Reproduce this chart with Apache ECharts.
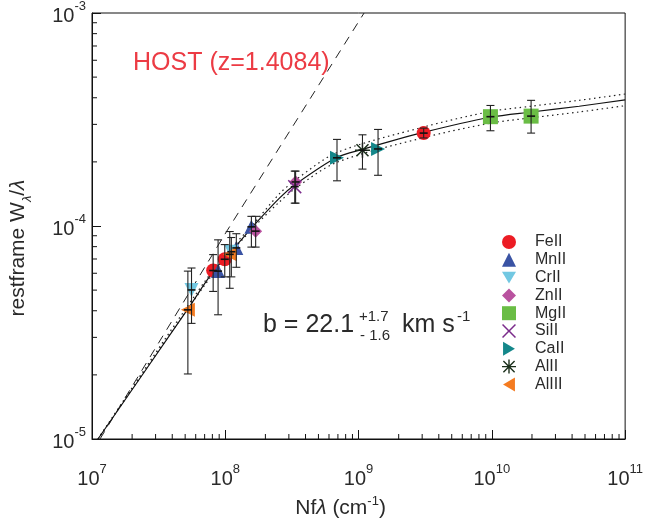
<!DOCTYPE html>
<html><head><meta charset="utf-8">
<script src="https://cdn.jsdelivr.net/npm/echarts@6/dist/echarts.min.js"></script>
<style>html,body{margin:0;padding:0;background:#fff}#c{width:646px;height:524px}</style>
</head><body><div id="c"></div>
<script>
// ---- tick labels ----
const xTickExp = ['7', '8', '9', '10', '11'];
const yTickExp = ['-5', '-4', '-3'];
const minorMantissa = [2, 3, 4, 5, 6, 7, 8, 9];

// ---- measurements per ion: x = Nf·lambda, y = W/lambda, lo/hi = error bar ends ----
const feX = [8.11e7, 9.91e7, 3.08e9];
const feY = [6.18e-5, 6.98e-5, 2.73e-4];
const feLo = [4.93e-5, 5.77e-5, 2.59e-4];
const feHi = [7.34e-5, 8.18e-5, 2.88e-4];

const mnX = [8.83e7, 1.21e8, 1.57e8];
const mnY = [6.14e-5, 7.89e-5, 9.91e-5];
const mnLo = [3.83e-5, 6.4e-5, 7.96e-5];
const mnHi = [8.61e-5, 9.2e-5, 1.11e-4];

const crX = [5.58e7, 1.11e8];
const crY = [5.01e-5, 7.57e-5];
const crLo = [3.49e-5, 5.77e-5];
const crHi = [6.35e-5, 8.83e-5];

const znX = [1.69e8, 3.37e8];
const znY = [9.46e-5, 1.61e-4];
const znLo = [7.96e-5, 1.28e-4];
const znHi = [1.11e-4, 1.81e-4];

const mgX = [9.76e9, 1.97e10];
const mgY = [3.26e-4, 3.28e-4];
const mgLo = [2.80e-4, 2.73e-4];
const mgHi = [3.68e-4, 3.89e-4];

const siX = [3.32e8];
const siY = [1.53e-4];
const siLo = [1.28e-4];
const siHi = [1.81e-4];

const caX = [6.89e8, 1.40e9];
const caY = [2.09e-4, 2.30e-4];
const caLo = [1.63e-4, 1.73e-4];
const caHi = [2.55e-4, 2.84e-4];

const al2X = [1.07e9];
const al2Y = [2.27e-4];
const al2Lo = [1.85e-4];
const al2Hi = [2.68e-4];

const al3X = [5.24e7, 1.08e8];
const al3Y = [4.04e-5, 7.36e-5];
const al3Lo = [2.02e-5, 5.1e-5];
const al3Hi = [6.14e-5, 9.42e-5];

// ---- curve of growth ----
const cogX = [1.109e7, 5.24e7, 8.06e7, 1.22e8, 1.66e8, 2.56e8, 3.37e8, 6.84e8, 1.07e9, 3.07e9, 9.75e9, 1.98e10, 4.52e10, 1e11];
const cogY = [1.0e-5, 4.08e-5, 6.07e-5, 8.15e-5, 1.016e-4, 1.356e-4, 1.570e-4, 2.096e-4, 2.291e-4, 2.751e-4, 3.24e-4, 3.43e-4, 3.65e-4, 3.91e-4];
const upX = [1.109e7, 8.06e7, 1.66e8, 2.56e8, 3.37e8, 6.84e8, 3.07e9, 9.75e9, 1.98e10, 4.52e10, 1e11];
const upY = [1.0e-5, 6.20e-5, 1.037e-4, 1.421e-4, 1.646e-4, 2.208e-4, 2.915e-4, 3.448e-4, 3.652e-4, 3.890e-4, 4.165e-4];
const loX = [1.109e7, 8.06e7, 1.66e8, 2.56e8, 3.37e8, 6.84e8, 3.07e9, 9.75e9, 1.98e10, 4.52e10, 1e11];
const loY = [1.0e-5, 5.95e-5, 9.95e-5, 1.300e-4, 1.505e-4, 1.988e-4, 2.598e-4, 3.040e-4, 3.221e-4, 3.430e-4, 3.671e-4];
const linX = [1.148e7, 1.02e8, 1.1e9];
const linY = [1.0e-5, 9.4e-5, 1.0e-3];

const X_MIN = 1e7, X_MAX = 1e11, Y_MIN = 1e-5, Y_MAX = 1e-3;

const FONT = '"Liberation Sans", Arial, Helvetica, sans-serif';
const TXT = '#2a2a2a';

const ions = [
  {name: 'FeII', x: feX, y: feY, lo: feLo, hi: feHi, color: '#ec1c24', symbol: 'circle', size: 14},
  {name: 'MnII', x: mnX, y: mnY, lo: mnLo, hi: mnHi, color: '#3a53a4', symbol: 'triangle', size: 14},
  {name: 'CrII', x: crX, y: crY, lo: crLo, hi: crHi, color: '#72c8e2', symbol: 'path://M0,0 L20,0 L10,17 Z', size: 14},
  {name: 'ZnII', x: znX, y: znY, lo: znLo, hi: znHi, color: '#b9529f', symbol: 'diamond', size: 13},
  {name: 'MgII', x: mgX, y: mgY, lo: mgLo, hi: mgHi, color: '#6abd45', symbol: 'rect', size: 15},
  {name: 'SiII', x: siX, y: siY, lo: siLo, hi: siHi, color: '#7b2c8b', symbol: 'path://M1.5,0 L10,8.5 L18.5,0 L20,1.5 L11.5,10 L20,18.5 L18.5,20 L10,11.5 L1.5,20 L0,18.5 L8.5,10 L0,1.5 Z', size: 14},
  {name: 'CaII', x: caX, y: caY, lo: caLo, hi: caHi, color: '#14878a', symbol: 'path://M0,0 L17,10 L0,20 Z', size: 14},
  {name: 'AlII', x: al2X, y: al2Y, lo: al2Lo, hi: al2Hi, color: '#1b2f1b', symbol: 'path://M9,0 L11,0 L11,20 L9,20 Z M0,9 L20,9 L20,11 L0,11 Z M2.7,1.3 L18.7,17.3 L17.3,18.7 L1.3,2.7 Z M18.7,2.7 L2.7,18.7 L1.3,17.3 L17.3,1.3 Z', size: 15},
  {name: 'AlIII', x: al3X, y: al3Y, lo: al3Lo, hi: al3Hi, color: '#f47b20', symbol: 'path://M17,0 L0,10 L17,20 Z', size: 14}
];

function pairs(xs, ys) { return xs.map((v, i) => [v, ys[i]]); }

function errRender(params, api) {
  const x = api.value(0), y = api.value(1), lo = api.value(2), hi = api.value(3);
  const c = api.coord([x, y]), pl = api.coord([x, lo]), ph = api.coord([x, hi]);
  const w = 4, s = {stroke: '#222', lineWidth: 1.1};
  return {type: 'group', children: [
    {type: 'line', shape: {x1: pl[0], y1: pl[1], x2: ph[0], y2: ph[1]}, style: s},
    {type: 'line', shape: {x1: pl[0] - w, y1: pl[1], x2: pl[0] + w, y2: pl[1]}, style: s},
    {type: 'line', shape: {x1: ph[0] - w, y1: ph[1], x2: ph[0] + w, y2: ph[1]}, style: s},
    {type: 'line', shape: {x1: c[0] - w, y1: c[1], x2: c[0] + w, y2: c[1]}, style: {stroke: '#111', lineWidth: 1.6}}
  ]};
}

const minorXs = [], minorYs = [];
[1e7, 1e8, 1e9, 1e10].forEach(d => minorMantissa.forEach(m => minorXs.push([m * d])));
[1e-5, 1e-4].forEach(d => minorMantissa.forEach(m => minorYs.push([m * d])));

const series = [];
series.push({type: 'line', name: 'lin', data: pairs(linX, linY), showSymbol: false, symbol: 'none', silent: true,
  lineStyle: {color: '#222', width: 1, type: [9, 7]}, z: 1});
series.push({type: 'line', name: 'up', data: pairs(upX, upY), symbol: 'none', smooth: 0.3, silent: true,
  lineStyle: {color: '#222', width: 1.2, type: [1.5, 3.5]}, z: 1});
series.push({type: 'line', name: 'lo', data: pairs(loX, loY), symbol: 'none', smooth: 0.3, silent: true,
  lineStyle: {color: '#222', width: 1.2, type: [1.5, 3.5]}, z: 1});
series.push({type: 'line', name: 'cog', data: pairs(cogX, cogY), symbol: 'none', smooth: 0.3, silent: true,
  lineStyle: {color: '#111', width: 1.2}, z: 1});

ions.forEach(ion => {
  series.push({type: 'scatter', name: ion.name, data: pairs(ion.x, ion.y), symbol: ion.symbol, symbolSize: ion.size,
    itemStyle: {color: ion.color, opacity: 1}, z: 3});
});
ions.forEach(ion => {
  series.push({type: 'custom', name: ion.name + '_err', renderItem: errRender, silent: true, z: 4,
    data: ion.x.map((v, i) => [v, ion.y[i], ion.lo[i], ion.hi[i]]),
    encode: {x: 0, y: [1, 2, 3]}});
});
// minor ticks drawn through the axis scales
series.push({type: 'custom', name: 'minorX', silent: true, z: 5, data: minorXs, encode: {x: 0},
  renderItem: (p, api) => { const c = api.coord([api.value(0), Y_MIN]);
    return {type: 'line', shape: {x1: c[0], y1: c[1], x2: c[0], y2: c[1] - 5}, style: {stroke: '#111', lineWidth: 1}}; }});
series.push({type: 'custom', name: 'minorY', silent: true, z: 5, data: minorYs.map(v => [X_MIN, v[0]]), encode: {x: 0, y: 1},
  renderItem: (p, api) => { const c = api.coord([X_MIN, api.value(1)]);
    return {type: 'line', shape: {x1: c[0], y1: c[1], x2: c[0] + 5, y2: c[1]}, style: {stroke: '#111', lineWidth: 1}}; }});

const labelRich = {
  b: {fontSize: 20, fontFamily: FONT, color: TXT, lineHeight: 26, verticalAlign: 'bottom'},
  s: {fontSize: 13, fontFamily: FONT, color: TXT, lineHeight: 14, verticalAlign: 'top'}
};

const option = {
  animation: false,
  backgroundColor: '#fff',
  grid: {left: 92, right: 20, top: 8, bottom: 77, show: true, borderColor: '#111', borderWidth: 1, containLabel: false},
  xAxis: {
    type: 'log', logBase: 10, min: X_MIN, max: X_MAX,
    axisLine: {show: true, lineStyle: {color: '#111', width: 1}},
    axisTick: {show: true, inside: true, length: 9, lineStyle: {color: '#111'}},
    splitLine: {show: false},
    axisLabel: {margin: 24, formatter: (v, i) => '{b|10}{s|' + xTickExp[i] + '}', rich: labelRich},
    name: '{n|Nf}{g|λ}{n| (cm}{s|-1}{n|)}', nameLocation: 'middle', nameGap: 56,
    nameTextStyle: {padding: [0, 36, 0, 0], rich: {
      n: {fontSize: 21, fontFamily: FONT, color: TXT, lineHeight: 24, verticalAlign: 'bottom'},
      g: {fontSize: 21, fontFamily: FONT, color: TXT, lineHeight: 24, verticalAlign: 'bottom', fontStyle: 'italic'},
      s: {fontSize: 13, fontFamily: FONT, color: TXT, lineHeight: 12, verticalAlign: 'top'}}}
  },
  yAxis: {
    type: 'log', logBase: 10, min: Y_MIN, max: Y_MAX,
    axisLine: {show: true, lineStyle: {color: '#111', width: 1}},
    axisTick: {show: true, inside: true, length: 9, lineStyle: {color: '#111'}},
    splitLine: {show: false},
    axisLabel: {margin: 6, formatter: (v, i) => '{b|10}{s|' + yTickExp[i] + '}', rich: labelRich},
    name: '{n|restframe W}{sub|λ}{n|/}{g|λ}', nameLocation: 'middle', nameGap: 58, nameRotate: 90,
    nameTextStyle: {padding: [0, 44, 0, 0], rich: {
      n: {fontSize: 21, fontFamily: FONT, color: TXT, lineHeight: 26, verticalAlign: 'top'},
      g: {fontSize: 21, fontFamily: FONT, color: TXT, lineHeight: 26, verticalAlign: 'top', fontStyle: 'italic'},
      sub: {fontSize: 13, fontFamily: FONT, color: TXT, lineHeight: 14, verticalAlign: 'bottom', fontStyle: 'italic'}}}
  },
  legend: {
    orient: 'vertical', left: 497, top: 229, itemWidth: 14, itemHeight: 14, itemGap: 1.8,
    textStyle: {fontSize: 16, lineHeight: 14, fontFamily: FONT, color: TXT, padding: [0, 0, 0, 14]},
    data: ions.map(ion => ({name: ion.name, icon: ion.symbol,
      itemStyle: {color: ion.color}}))
  },
  graphic: [
    {type: 'text', left: 133, top: 51, style: {text: 'HOST (z=1.4084)', fontSize: 25, fontFamily: FONT, fill: '#ec3b44'}},
    {type: 'text', left: 263, top: 313, style: {text: 'b = 22.1', fontSize: 25, fontFamily: FONT, fill: TXT}},
    {type: 'text', left: 359, top: 309, style: {text: '+1.7', fontSize: 15, fontFamily: FONT, fill: TXT}},
    {type: 'text', left: 360, top: 328, style: {text: '- 1.6', fontSize: 15, fontFamily: FONT, fill: TXT}},
    {type: 'text', left: 402, top: 313, style: {text: 'km s', fontSize: 25, fontFamily: FONT, fill: TXT}},
    {type: 'text', left: 457, top: 309, style: {text: '-1', fontSize: 15, fontFamily: FONT, fill: TXT}}
  ],
  series: series
};

const chart = echarts.init(document.getElementById('c'), null, {renderer: 'canvas'});
chart.setOption(option);
</script>
</body></html>
